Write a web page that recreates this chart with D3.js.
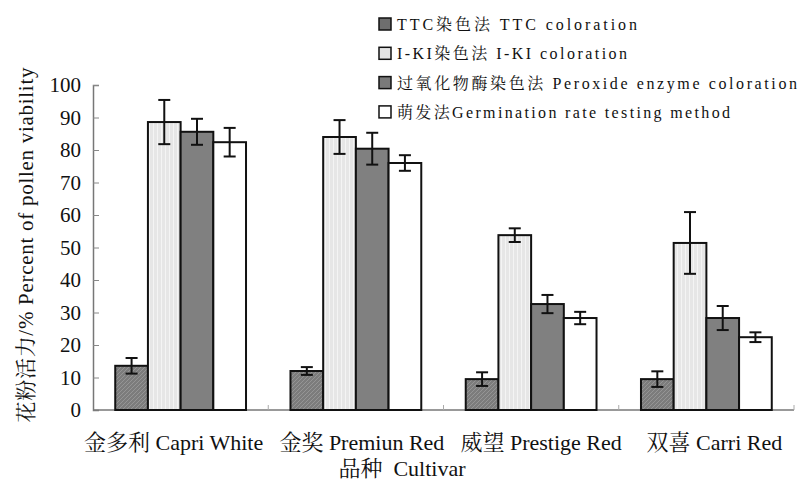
<!DOCTYPE html>
<html>
<head>
<meta charset="utf-8">
<script src="https://cdn.jsdelivr.net/npm/d3@7"></script>
<style>
  body { margin: 0; background: #fff; }
  svg text { font-family: "Liberation Serif", "Times New Roman", "Noto Serif CJK SC", "Noto Sans CJK SC", serif; fill: #111; }
</style>
</head>
<body>
<svg id="chart" width="805" height="482"></svg>
<script>
'use strict';
//data
var categories = ['金多利 Capri White', '金奖 Premiun Red', '威望 Prestige Red', '双喜 Carri Red'];
var seriesNames = ['TTC染色法 TTC coloration', 'I-KI染色法 I-KI coloration',
  '过氧化物酶染色法 Peroxide enzyme coloration', '萌发法Germination rate testing method'];
var ttc = [13.6, 12.0, 9.5, 9.5];
var ttcErr = [2.4, 1.2, 2.1, 2.4];
var iki = [88.6, 84.0, 53.8, 51.4];
var ikiErr = [6.8, 5.2, 2.1, 9.5];
var perox = [85.6, 80.4, 32.6, 28.3];
var peroxErr = [4.0, 4.9, 2.8, 3.7];
var germ = [82.4, 76.0, 28.3, 22.4];
var germErr = [4.4, 2.4, 1.9, 1.5];
var yTicks = [0, 10, 20, 30, 40, 50, 60, 70, 80, 90, 100];
var xTitle = '品种  Cultivar';
var yTitle = '花粉活力/% Percent of pollen viability';

var MARGINS = { top: 85, left: 93, right: 8, bottom: 72 };
var WIDTH = 805;
var HEIGHT = 482;

var values = [ttc, iki, perox, germ];
var errors = [ttcErr, ikiErr, peroxErr, germErr];
var fills = ['url(#hatch)', 'url(#dots)', '#808080', '#ffffff'];
var legendFills = ['#6e6e6e', '#e4e4e4', '#7a7a7a', '#ffffff'];
var legendWidths = [240, 230, 400, 333];
// labels in the original sit a little off the band centres
var labelShift = [-7, 6, 10, 8];

var svg = d3.select('#chart');

//patterns
var defs = svg.append('defs');
var hatch = defs.append('pattern')
  .attr('id', 'hatch')
  .attr('patternUnits', 'userSpaceOnUse')
  .attr('width', 4).attr('height', 4);
hatch.append('rect').attr('width', 4).attr('height', 4).attr('fill', '#7c7c7c');
hatch.append('path').attr('d', 'M0,4 L4,0').attr('stroke', '#959595').attr('stroke-width', 1);

var dots = defs.append('pattern')
  .attr('id', 'dots')
  .attr('patternUnits', 'userSpaceOnUse')
  .attr('width', 4).attr('height', 4);
dots.append('rect').attr('width', 4).attr('height', 4).attr('fill', '#e6e6e6');
dots.append('rect').attr('x', 1).attr('width', 1).attr('height', 4).attr('fill', '#f4f4f4');

//scales
var x0 = d3.scaleBand()
  .domain(categories)
  .range([MARGINS.left, WIDTH - MARGINS.right - 3]);

var x1 = d3.scaleBand()
  .domain(d3.range(seriesNames.length))
  .range([0, x0.bandwidth()])
  .paddingInner(0)
  .paddingOuter(0.68);

var y = d3.scaleLinear()
  .domain([0, 100])
  .range([HEIGHT - MARGINS.bottom, MARGINS.top]);

//axes
var yAxis = svg.append('g')
  .attr('transform', 'translate(' + MARGINS.left + ',0)')
  .call(d3.axisRight(y).tickValues(yTicks).tickSize(6).tickFormat(''));
yAxis.select('.domain').attr('stroke', '#777').attr('stroke-width', 1.5);
yAxis.selectAll('.tick line').attr('stroke', '#888');

svg.append('g')
  .selectAll('text')
  .data(yTicks)
  .enter()
  .append('text')
  .attr('x', 81)
  .attr('y', function(d) { return y(d) + 7; })
  .attr('text-anchor', 'end')
  .attr('font-size', 21)
  .text(function(d) { return d; });

var xAxis = svg.append('g')
  .attr('transform', 'translate(0,' + y(0) + ')');
xAxis.append('line')
  .attr('x1', x0.range()[0]).attr('x2', x0.range()[1])
  .attr('stroke', '#777').attr('stroke-width', 1.5);
xAxis.selectAll('.ctick')
  .data(categories.slice(1).concat(['end']))
  .enter()
  .append('line')
  .attr('class', 'ctick')
  .attr('x1', function(d, i) { return x0.range()[0] + x0.step() * (i + 1); })
  .attr('x2', function(d, i) { return x0.range()[0] + x0.step() * (i + 1); })
  .attr('y1', 0).attr('y2', -5)
  .attr('stroke', '#aaa');

//bars
var groups = svg.append('g')
  .selectAll('g')
  .data(values)
  .enter()
  .append('g');

groups.selectAll('rect')
  .data(function(d, s) {
    return d.map(function(v, c) { return { s: s, c: c, v: v }; });
  })
  .enter()
  .append('rect')
  .attr('x', function(d) { return x0(categories[d.c]) + x1(d.s); })
  .attr('y', function(d) { return y(d.v); })
  .attr('width', x1.bandwidth())
  .attr('height', function(d) { return y(0) - y(d.v); })
  .attr('fill', function(d) { return fills[d.s]; })
  .attr('stroke', '#111')
  .attr('stroke-width', 2);

//error bars
var errData = [];
values.forEach(function(arr, s) {
  arr.forEach(function(v, c) {
    errData.push({ s: s, c: c, v: v, e: errors[s][c] });
  });
});

var err = svg.append('g')
  .selectAll('g')
  .data(errData)
  .enter()
  .append('g')
  .attr('stroke', '#111')
  .attr('stroke-width', 2);

function cx(d) { return x0(categories[d.c]) + x1(d.s) + x1.bandwidth() / 2; }

err.append('line')
  .attr('x1', cx).attr('x2', cx)
  .attr('y1', function(d) { return y(d.v + d.e); })
  .attr('y2', function(d) { return y(d.v - d.e); });
err.append('line')
  .attr('x1', function(d) { return cx(d) - 6; })
  .attr('x2', function(d) { return cx(d) + 6; })
  .attr('y1', function(d) { return y(d.v + d.e); })
  .attr('y2', function(d) { return y(d.v + d.e); });
err.append('line')
  .attr('x1', function(d) { return cx(d) - 6; })
  .attr('x2', function(d) { return cx(d) + 6; })
  .attr('y1', function(d) { return y(d.v - d.e); })
  .attr('y2', function(d) { return y(d.v - d.e); });

//category labels
svg.append('g')
  .selectAll('text')
  .data(categories)
  .enter()
  .append('text')
  .attr('x', function(d, i) { return x0(d) + x0.bandwidth() / 2 + labelShift[i]; })
  .attr('y', 450)
  .attr('text-anchor', 'middle')
  .attr('font-size', 22)
  .text(function(d) { return d; });

svg.append('text')
  .attr('x', 402)
  .attr('y', 476)
  .attr('text-anchor', 'middle')
  .attr('font-size', 22)
  .attr('xml:space', 'preserve')
  .text(xTitle);

svg.append('text')
  .attr('transform', 'translate(33,245) rotate(-90)')
  .attr('text-anchor', 'middle')
  .attr('font-size', 21)
  .attr('textLength', 355)
  .attr('lengthAdjust', 'spacing')
  .text(yTitle);

//legend
var legend = svg.append('g')
  .selectAll('g')
  .data(seriesNames)
  .enter()
  .append('g')
  .attr('transform', function(d, i) { return 'translate(379,' + (18 + i * 29.3) + ')'; });

legend.append('rect')
  .attr('width', 12).attr('height', 12)
  .attr('fill', function(d, i) { return legendFills[i]; })
  .attr('stroke', '#111')
  .attr('stroke-width', 1.5);

legend.append('text')
  .attr('x', 18)
  .attr('y', 12)
  .attr('font-size', 16)
  .attr('textLength', function(d, i) { return legendWidths[i]; })
  .attr('lengthAdjust', 'spacing')
  .text(function(d) { return d; });
</script>
</body>
</html>
